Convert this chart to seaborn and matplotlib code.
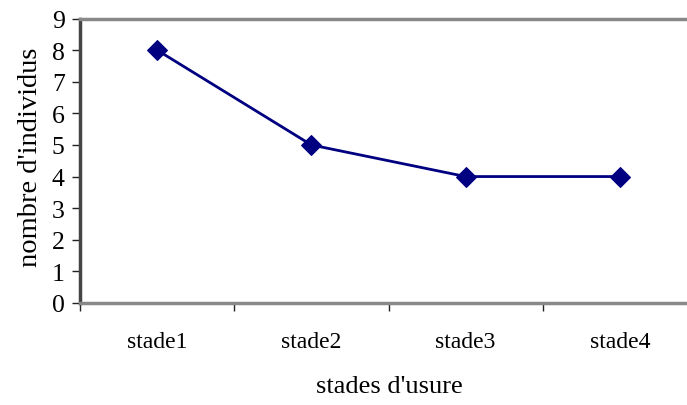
import matplotlib
matplotlib.use("Agg")
import matplotlib.pyplot as plt
import seaborn as sns
import pandas as pd

categories = ["stade1", "stade2", "stade3", "stade4"]
values = [8, 5, 4, 4]
yticks = list(range(0, 10))

sns.set_theme(style="white")
plt.rcParams['font.family'] = ['Liberation Serif', 'DejaVu Serif']
plt.rcParams['text.color'] = 'black'
plt.rcParams['axes.labelcolor'] = 'black'
plt.rcParams['xtick.color'] = 'black'
plt.rcParams['ytick.color'] = 'black'

df = pd.DataFrame({"stade": categories, "n": values, "pos": range(len(categories))})

W, H = 687, 406
fig = plt.figure(figsize=(W / 100, H / 100), dpi=100)
left, right = 80, 697
top, bottom = 19.5, 304
ax = fig.add_axes([left / W, 1 - bottom / H, (right - left) / W, (bottom - top) / H])

sns.lineplot(data=df, x="pos", y="n", ax=ax, color="#000080", linewidth=2,
             marker="D", markersize=10, markeredgecolor="#000080", markerfacecolor="#000080")

ax.set_xlim(-0.5, 3.5)
ax.set_ylim(0, 9)
ax.set_yticks(yticks)
ax.set_yticklabels([str(t) for t in yticks], fontsize=18.5)
ax.set_xticks([-0.5, 0.5, 1.5, 2.5, 3.5])
ax.set_xticklabels([])
ax.set_xticks(range(len(categories)), minor=True)
ax.set_xticklabels(categories, minor=True, fontsize=17)
ax.tick_params(axis='x', which='minor', length=0, pad=20)
ax.tick_params(axis='x', which='major', length=6, width=1, color='#222222', direction='out', bottom=True)
ax.tick_params(axis='y', length=6, width=1, color='#222222', direction='out', left=True, pad=5)

for s in ['top', 'bottom']:
    ax.spines[s].set_color('#888888')
    ax.spines[s].set_linewidth(2.5)
ax.spines['left'].set_color('#444444')
ax.spines['left'].set_linewidth(2.5)
ax.spines['right'].set_visible(False)

ax.set_xlabel("stades d'usure", fontsize=19)
ax.set_ylabel("nombre d'individus", fontsize=20.5)
ax.xaxis.set_label_coords((389 - left) / (right - left), -(387 - bottom) / (bottom - top))
ax.xaxis.label.set_va('center')
ax.yaxis.set_label_coords(-(80 - 31) / (right - left), (bottom - 157) / (bottom - top))
ax.yaxis.label.set_va('center')

fig.savefig("out.png", dpi=100)
